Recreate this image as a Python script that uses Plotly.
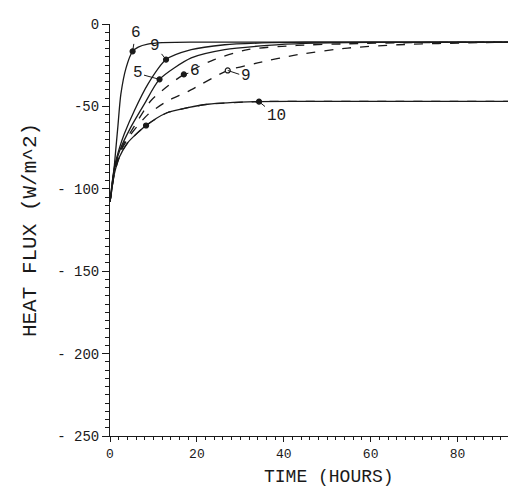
import plotly.graph_objects as go

# heat flux curves (time in hours, flux in W/m^2)
t_s6 = [0, 0.6, 1.2, 1.8, 2.5, 3.7, 5.2, 6.5, 8.7, 12, 20, 95]
q_s6 = [-108, -97, -80, -62.6, -42.6, -26.6, -16.6, -14, -12.2, -11.3, -11, -11]

t_s9 = [0, 1, 2.2, 3.3, 5.6, 8.7, 12.9, 18.7, 26.4, 35, 45, 95]
q_s9 = [-108, -87, -75, -66.6, -52.6, -36.6, -21.6, -15.6, -12.6, -11.5, -11, -11]

t_s5 = [0, 1, 2.2, 4.8, 7.9, 11.4, 18.7, 26.4, 36.3, 45, 60, 95]
q_s5 = [-108, -88, -77, -62.6, -48.6, -33.6, -20.6, -15.6, -13, -11.8, -11.2, -11]

t_d6 = [0, 1, 2.9, 5.6, 9.4, 13.3, 17, 24, 31.7, 43, 55, 70, 95]
q_d6 = [-108, -89, -74, -62, -46.6, -37.6, -30.6, -21.6, -15.5, -13, -12, -11.3, -11]

t_d9 = [0, 1, 2.5, 4.8, 8.7, 13.3, 17.9, 27.1, 34, 43.2, 54.7, 66.3, 85, 95]
q_d9 = [-108, -90, -77, -67, -55, -46.6, -41, -28.2, -23.6, -18.6, -14.6, -12.6, -11.3, -11]

t_10 = [0, 1, 2.2, 4.1, 8.3, 13, 17.9, 22.5, 34, 50, 95]
q_10 = [-108, -91, -80.6, -72, -61.6, -54, -50.8, -48.7, -47.1, -47, -47]

# labelled points
lab_text = ["6", "9", "5", "6", "9", "10"]
lab_t = [5.2, 12.9, 11.4, 17, 27.1, 34.3]
lab_q = [-16.6, -21.6, -33.6, -30.6, -28.2, -47.1]
lab_ax = [3, -11, -22, 11, 18, 17]
lab_ay = [-18, -14, -6, -3, 6, 14]
lab_open = [False, False, False, False, True, False]

x_ticks = [0, 20, 40, 60, 80]
x_ticktext = ["0", "20", "40", "60", "80"]
y_ticks = [-250, -200, -150, -100, -50, 0]
y_ticktext = ["- 250", "- 200", "- 150", "- 100", "-50", "0"]

FONT = "Liberation Mono"
INK = "#1a1a1a"

fig = go.Figure()

curves = [(t_s6, q_s6, "solid"), (t_s9, q_s9, "solid"), (t_s5, q_s5, "solid"),
          (t_d6, q_d6, "dash"), (t_d9, q_d9, "dash"),
          (t_10, q_10, "solid"), (t_10, q_10, "dash")]
for tt, qq, dash in curves:
    fig.add_trace(go.Scatter(x=tt, y=qq, mode="lines",
                             line=dict(color=INK, width=1.3, dash=dash,
                                       shape="spline", smoothing=0.7),
                             showlegend=False, hoverinfo="skip"))

fig.add_trace(go.Scatter(
    x=lab_t + [8.3], y=lab_q + [-61.6], mode="markers",
    marker=dict(size=5, color=["white" if o else INK for o in lab_open] + [INK],
                line=dict(color=INK, width=1.2)),
    showlegend=False, hoverinfo="skip"))

for txt, tx, qy, ax, ay in zip(lab_text, lab_t, lab_q, lab_ax, lab_ay):
    fig.add_annotation(x=tx, y=qy, text=txt, showarrow=True, arrowhead=0,
                       arrowwidth=1, arrowcolor=INK, ax=ax, ay=ay,
                       font=dict(family=FONT, size=16, color=INK))

# x title placed by hand so it sits just above the bottom edge
fig.add_annotation(x=0.53, y=-0.1, xref="paper", yref="paper",
                   xanchor="center", yanchor="middle", showarrow=False,
                   borderpad=0,
                   text="TIME (HOURS)", font=dict(family=FONT, size=18, color=INK))

fig.update_xaxes(range=[0, 95.3], showgrid=False, zeroline=False,
                 showline=True, linecolor=INK, linewidth=1,
                 tickmode="array", tickvals=x_ticks, ticktext=x_ticktext,
                 ticks="outside", ticklen=5, tickcolor=INK,
                 minor=dict(dtick=2, ticks="outside", ticklen=3, tickcolor=INK),
                 tickfont=dict(family=FONT, size=13, color=INK))
fig.update_yaxes(range=[-250, 0], showgrid=False, zeroline=False,
                 showline=True, linecolor=INK, linewidth=1,
                 tickmode="array", tickvals=y_ticks, ticktext=y_ticktext,
                 ticks="outside", ticklen=7, tickcolor=INK,
                 minor=dict(dtick=5, ticks="outside", ticklen=4, tickcolor=INK),
                 tickfont=dict(family=FONT, size=14, color=INK),
                 title=dict(text="HEAT FLUX (W/m^2)", standoff=14,
                            font=dict(family=FONT, size=21, color=INK)))

fig.update_layout(width=516, height=486, plot_bgcolor="white", paper_bgcolor="white",
                  margin=dict(l=102, r=0, t=16, b=58, autoexpand=False))

fig.write_html("out.html")
